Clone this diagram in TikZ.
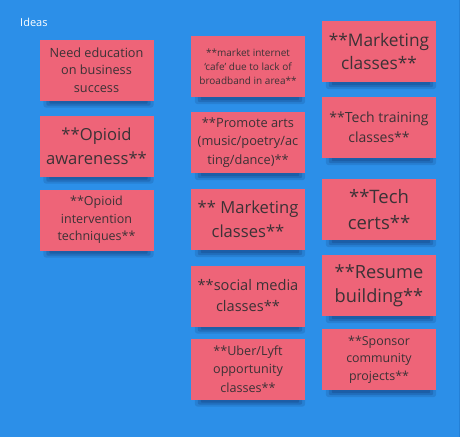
\documentclass[tikz,border=0pt]{standalone}
\usepackage{fontspec}
\setmainfont{Open Sans}
\usetikzlibrary{backgrounds}
\definecolor{boardblue}{RGB}{44,143,232}
\definecolor{edgeblue}{RGB}{36,128,214}
\definecolor{shadeblue}{RGB}{18,60,120}
\definecolor{notepink}{RGB}{238,100,120}
\definecolor{notetext}{RGB}{60,50,54}
\tikzset{
  x=1pt, y=-1pt,
  note/.style={fill=notepink, text=notetext, align=center, inner sep=0pt,
    minimum width=114pt, minimum height=61pt},
  fs/.style 2 args={font=\fontsize{#1}{#2}\selectfont},
  titletext/.style={text=white, font=\fontsize{11}{13}\selectfont, anchor=base west, inner sep=0pt}
}
\begin{document}
\begin{tikzpicture}
\useasboundingbox (0,0) rectangle (460,437);

\node[titletext] (title) at (20,26) {Ideas};

% first column
\node[note, fs={12.7}{17.5}] (eduA) at (96.5,70) {Need education\\on business\\success};
\node[note, fs={16.6}{24}] (opioidA) at (96.5,146) {**Opioid\\awareness**};
\node[note, fs={12.5}{17.5}] (opioidI) at (96.5,220) {**Opioid\\intervention\\techniques**};

% second column
\node[note, fs={10}{14}] (cafe) at (248,66.5) {**market internet\\‘cafe’ due to lack of\\broadband in area**};
\node[note, fs={12.8}{18.5}] (arts) at (248,142.5) {**Promote arts\\(music/poetry/ac\\ting/dance)**};
\node[note, fs={16.6}{24}] (mktB) at (248,219.5) {** Marketing\\classes**};
\node[note, fs={14.6}{21}] (social) at (248,296) {**social media\\classes**};
\node[note, fs={12.6}{18.5}] (uber) at (248,369) {**Uber/Lyft\\opportunity\\classes**};

% third column
\node[note, fs={17.3}{23}] (mktA) at (379,51.5) {**Marketing\\classes**};
\node[note, fs={14}{20}] (tech) at (379,127.5) {**Tech training\\classes**};
\node[note, fs={18.5}{26}] (certs) at (379,209.5) {**Tech\\certs**};
\node[note, fs={18.2}{24}] (resume) at (379,285.5) {**Resume\\building**};
\node[note, fs={12.4}{17.5}] (sponsor) at (379,359.5) {**Sponsor\\community\\projects**};

\begin{scope}[on background layer]
  \fill[boardblue] (0,0) rectangle (460,437);
  \fill[edgeblue] (458.5,0) rectangle (460,437);
  % soft shadows under the notes
  \foreach \n in {eduA,opioidA,opioidI,cafe,arts,mktB,social,uber,mktA,tech,certs,resume,sponsor}{
    \fill[shadeblue, opacity=0.18, rounded corners=3pt]
      ([xshift=4pt,yshift=2pt]\n.south west) rectangle ([xshift=0pt,yshift=-7pt]\n.south east);
    \fill[shadeblue, opacity=0.25, rounded corners=2pt]
      ([xshift=7pt,yshift=2pt]\n.south west) rectangle ([xshift=-3pt,yshift=-5pt]\n.south east);
    \fill[shadeblue, opacity=0.3, rounded corners=1pt]
      ([xshift=10pt,yshift=2pt]\n.south west) rectangle ([xshift=-6pt,yshift=-3pt]\n.south east);
  }
\end{scope}
\end{tikzpicture}
\end{document}
